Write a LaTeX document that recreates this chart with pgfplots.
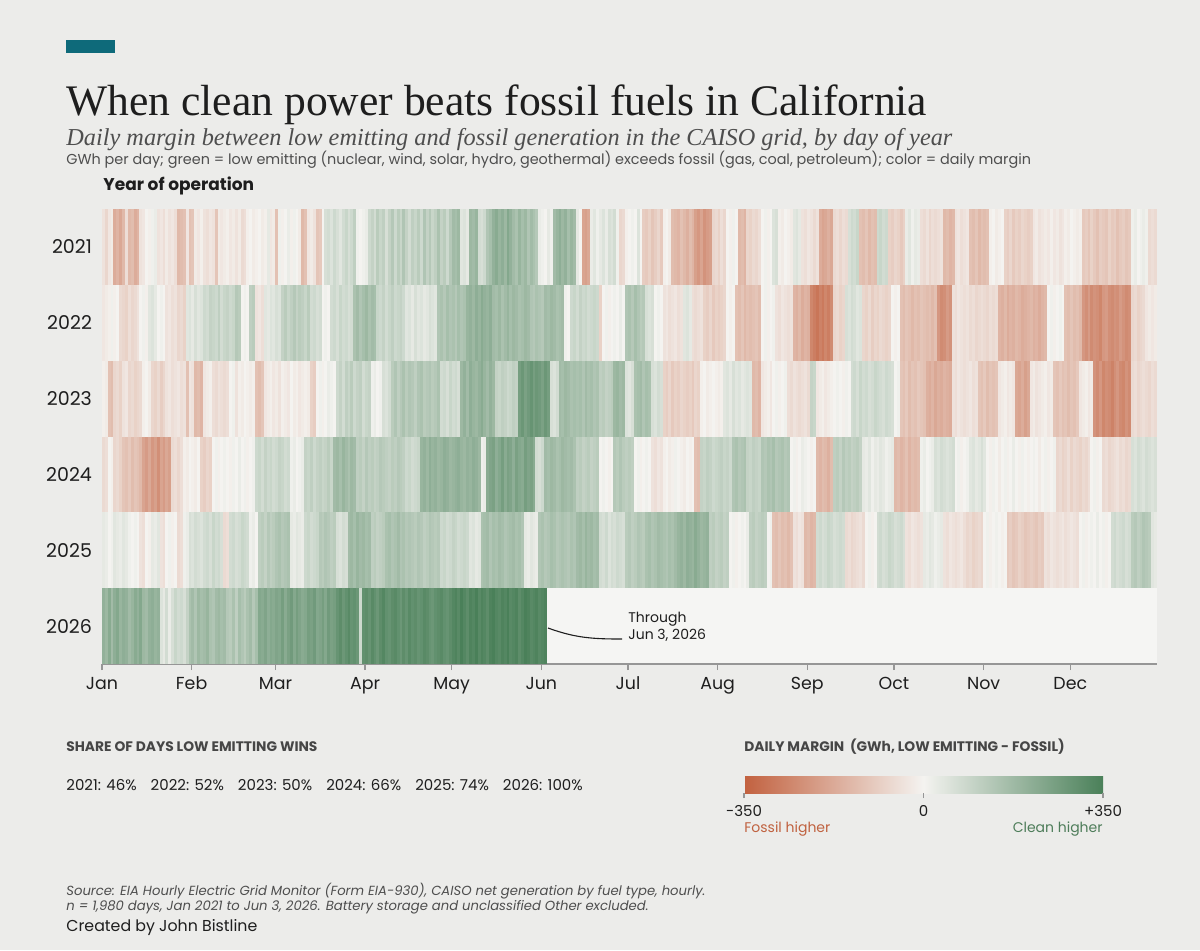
\documentclass[border=0pt]{standalone}
\usepackage{pgfplots}
\usepackage{pgfplotstable}
\pgfplotsset{compat=1.18}
\usepackage{fontspec}
\setmainfont{Poppins}
\newfontfamily\titlefont{Liberation Serif}
\definecolor{bg}{RGB}{236,236,234}
\definecolor{panel}{RGB}{245,245,243}
\definecolor{accent}{RGB}{14,106,122}
\definecolor{ink}{RGB}{30,30,30}
\definecolor{sub}{RGB}{78,78,78}
\definecolor{head}{RGB}{70,70,70}
\definecolor{axisgray}{RGB}{150,150,150}
\definecolor{fossil}{RGB}{192,98,64}
\definecolor{clean}{RGB}{78,125,90}
\pgfdeclareplotmark{daycell}{\pgfpathrectangle{\pgfqpoint{-0.78pt}{-18.96pt}}{\pgfqpoint{1.56pt}{37.92pt}}\pgfusepathqfill}
\pgfplotsset{heat/.style={scatter, only marks, mark=daycell, point meta=explicit, scatter/use mapped color={draw=none, fill=mapped color}}}
% daily margin, tens of GWh (low emitting - fossil), day of year 1..365
\pgfplotstableread{
c
-4
-7
-3
-2
-17
-15
-18
-14
-5
-14
-13
-17
-15
-4
-3
0
-1
1
2
-4
-3
-5
-2
-4
-3
-5
-14
-13
-12
-3
-12
-11
-2
-3
-1
-4
-5
-3
-4
-11
-2
-3
-2
-1
-3
-2
-4
-2
-6
-5
-1
0
-2
-1
0
-2
-1
3
-3
-2
-12
1
-1
0
2
-1
1
0
-2
-14
-12
-3
-2
-4
-11
-10
0
6
7
5
8
6
4
7
9
6
8
11
1
0
1
2
8
10
7
12
9
11
6
10
13
8
12
9
14
10
7
11
9
12
8
14
10
13
9
11
15
10
12
8
13
17
16
18
4
5
3
18
17
19
7
6
8
14
16
20
22
19
21
18
23
20
17
15
19
16
18
14
17
15
13
2
1
0
3
1
17
19
21
18
20
16
19
17
3
0
-19
-20
-18
2
4
1
3
5
2
6
5
7
1
-7
-6
-1
0
1
0
5
0
-9
-10
-8
-11
-9
-7
-10
-1
0
-2
-13
-14
-15
-12
-14
-16
-13
-15
-20
-22
-19
-23
-21
-20
-7
-6
-8
-5
-7
0
-1
1
0
-14
-13
-15
-7
-8
-6
-7
-5
0
1
-1
0
5
6
-1
-2
0
-1
-2
4
5
3
-4
-5
-3
-4
-6
-4
-17
-19
-18
-16
-18
-6
-5
-7
-5
-6
6
8
7
9
-12
-13
-11
-14
-12
-13
8
9
7
8
-8
-9
-7
-8
-10
-8
2
4
1
3
2
-5
-6
-4
-7
-5
-6
-5
-4
-14
-13
-15
-14
-4
-3
-5
-4
-3
-12
-13
-11
-14
-12
-13
-12
-1
0
-2
-1
0
-8
-9
-7
-10
-8
-9
-7
-8
-9
-8
-3
-2
-4
-3
-2
-3
-1
-3
-2
-4
-3
-1
-2
0
-1
-2
-1
-10
-9
-11
-8
-10
-12
-9
-10
-11
-8
-10
-9
-12
-10
-9
-11
-10
1
2
0
1
2
1
-6
-5
-6
}\yA
\pgfplotstableread{
c
-3
-2
-1
1
-1
0
-6
-7
-8
-5
-7
-6
-4
0
1
-1
4
5
3
0
1
0
-4
-3
-5
-4
-7
-6
-8
4
5
3
6
4
5
8
7
10
9
8
11
7
9
10
8
9
13
12
0
1
0
11
12
-4
-3
-5
4
3
5
4
6
5
10
12
9
11
13
10
12
11
9
12
7
8
6
7
0
1
0
7
8
6
9
7
8
6
7
15
17
14
16
18
15
17
16
9
8
10
7
9
11
8
9
10
8
4
5
3
6
4
5
3
4
6
5
4
14
15
13
16
14
15
13
16
14
15
19
20
18
21
19
22
20
19
21
17
16
18
15
17
19
16
18
17
15
16
18
17
14
13
15
14
13
17
16
18
17
15
16
17
1
0
8
9
7
10
8
9
7
8
9
8
-8
0
1
-1
0
1
0
2
0
14
15
13
16
14
12
13
6
5
6
0
1
0
-4
-3
-5
-4
-3
-5
-4
4
5
3
-5
-6
-5
-4
-8
-9
-7
-10
-8
-9
-8
-7
0
-1
0
-12
-13
-11
-14
-12
-13
-12
-11
-13
0
1
-1
0
1
-4
-5
-3
-4
-5
-4
-15
-16
-14
-17
-15
-16
-26
-28
-30
-27
-29
-26
-28
-25
-7
-6
-8
-7
6
5
7
6
4
5
-7
-8
-6
-9
-7
-8
-6
-7
-8
-7
0
-1
0
-12
-13
-11
-12
-14
-12
-13
-11
-12
-13
-12
-14
-12
-22
-25
-24
-21
-23
-4
-5
-3
-4
-5
-4
-6
-5
-7
-6
-5
-6
-7
-5
-6
-5
-15
-16
-14
-17
-15
-16
-14
-15
-17
-16
-15
-14
-16
-15
-17
-15
-14
0
1
-1
0
1
0
-12
-13
-11
-13
-12
-14
-22
-24
-21
-25
-23
-24
-26
-22
-21
-24
-25
-23
-24
-21
-23
-25
-24
-7
-6
-8
-7
-6
-3
-2
-3
-2
}\yB
\pgfplotstableread{
c
-1
-2
-12
-13
-7
-6
-8
-4
-3
-7
-6
-8
-7
-6
-1
0
-2
-7
-8
-6
-9
-7
-4
-3
-5
-4
-3
-5
-4
-12
-3
-4
-14
-13
-15
-3
-2
-1
-5
-6
-4
-5
-6
-5
0
1
-4
-1
-2
0
-1
-2
-1
-12
-13
-11
-3
-2
-1
-3
-2
-4
-1
-2
-3
0
-2
-1
-3
-2
-1
-2
-8
-9
0
1
-1
0
2
1
0
8
10
7
11
9
12
8
10
11
7
9
10
1
2
0
1
6
5
7
12
14
11
13
15
12
14
13
11
14
15
12
13
14
12
13
15
7
8
6
9
7
8
6
18
20
17
21
19
18
20
22
19
17
20
18
10
9
11
10
8
9
11
10
26
28
25
27
29
26
28
27
25
28
26
6
5
7
17
16
18
17
15
16
15
16
14
17
15
16
14
15
11
12
10
11
12
18
19
17
18
5
4
6
15
16
17
14
16
15
6
5
7
6
-8
-9
-7
-10
-8
-9
-7
-8
-9
-8
-10
-7
-8
-1
0
-2
-1
0
-1
-2
-1
4
5
3
6
4
5
3
4
5
4
-14
-13
-15
-3
-2
-1
-3
0
1
-1
0
1
-5
-6
-4
-5
-6
-5
-4
-6
10
9
-3
-2
-1
-3
-2
-1
0
1
0
-1
1
0
7
8
6
9
7
8
6
7
9
8
7
6
8
7
6
0
1
-11
-12
-10
-13
-11
-12
-10
-11
-12
-16
-17
-15
-18
-16
-17
-15
-16
-17
-4
-5
-3
-4
-5
-4
-3
-5
-4
-11
-12
-10
-13
-11
-12
-11
-3
-2
-1
-3
-2
-3
-18
-19
-17
-20
-18
-3
-2
-4
-3
-2
-1
-3
-2
-11
-12
-10
-12
-11
-13
-11
-12
-10
-3
-2
-1
-3
-2
-23
-25
-22
-26
-24
-25
-27
-24
-22
-25
-26
-23
-25
-6
-5
-7
-6
-5
-6
-7
-5
-6
}\yC
\pgfplotstableread{
c
-6
-5
0
-1
-7
-6
-8
-11
-12
-10
-13
-11
-12
-14
-19
-21
-18
-22
-20
-24
-19
-21
-18
-20
-6
-5
-7
-5
-1
-2
0
-1
-2
0
-8
-9
-7
-8
0
1
-1
0
1
0
-1
1
0
2
0
1
-1
0
1
8
9
7
10
8
9
7
8
10
9
7
8
1
2
0
1
2
10
9
11
8
10
11
9
10
12
9
17
18
16
19
17
15
18
17
11
12
10
13
11
12
10
11
13
12
11
10
12
11
13
12
11
8
9
7
8
9
19
20
18
21
19
20
18
19
21
20
18
19
20
21
19
18
20
19
21
20
18
1
2
22
24
25
21
23
26
22
25
24
21
25
23
22
26
24
25
22
7
6
8
17
16
18
17
15
16
18
17
16
17
15
11
12
10
11
12
10
11
12
0
1
0
-1
0
13
12
14
12
11
12
11
0
1
-1
0
1
0
-4
-5
-3
-4
-1
0
-2
-1
1
0
-1
-2
0
-1
0
-12
-13
10
9
11
10
8
9
10
11
9
10
8
14
15
13
14
15
10
9
11
10
9
14
13
15
14
16
13
14
15
13
14
0
1
-1
0
2
1
0
-1
0
-14
-15
-13
-14
-16
-13
11
12
10
13
11
12
10
11
12
10
3
2
4
1
3
2
4
3
1
2
3
-14
-13
-15
-14
-12
-15
-13
-14
-13
1
2
0
1
2
6
5
7
6
5
6
7
0
1
-1
0
1
4
5
3
4
6
4
0
-1
1
0
-2
0
1
-1
0
2
0
-1
1
0
-1
0
1
0
-2
0
1
-1
0
1
-7
-6
-8
-7
-5
-8
-6
-7
-8
-6
-7
-5
0
1
-1
0
-6
-5
-7
-6
-5
-4
-6
-5
-7
-6
6
5
7
6
5
7
6
5
6
}\yD
\pgfplotstableread{
c
3
2
0
1
4
3
2
4
3
1
0
1
0
-4
-5
0
-1
3
2
4
-4
-5
0
1
-1
0
-6
-5
1
2
6
5
7
6
5
7
8
6
9
7
8
6
-6
-5
7
8
6
7
9
8
7
1
2
0
11
12
10
13
11
12
14
15
13
14
15
3
2
4
3
2
8
9
7
8
9
13
12
14
13
11
12
6
5
7
6
17
18
16
19
17
18
16
17
11
12
10
11
12
15
16
14
15
17
14
15
13
14
13
12
14
13
11
12
14
13
12
13
8
9
7
8
10
9
7
8
9
8
4
5
3
4
15
16
17
14
16
15
17
16
14
15
16
17
15
16
14
3
2
4
3
2
14
15
13
14
16
15
13
14
15
14
13
15
14
17
18
16
19
17
18
16
17
7
6
8
5
7
6
8
7
6
12
13
11
12
14
13
12
15
16
14
15
17
16
15
14
16
15
17
19
20
18
21
20
19
22
20
18
19
20
11
12
10
11
12
10
11
0
1
-1
0
1
0
2
11
12
10
11
12
11
0
1
-12
-13
-11
-13
-12
-14
-12
-4
-5
-3
-4
-14
-13
-15
-14
7
8
6
7
9
8
6
7
8
7
-6
-5
-7
-6
-5
-4
-6
0
1
-1
0
7
8
6
7
9
8
6
7
8
6
-4
-5
-3
-4
-5
-4
3
2
4
3
1
2
3
-4
-5
-3
-4
-5
-4
-3
-5
-7
-6
-8
-7
-6
-7
0
1
-1
0
1
0
-1
0
-10
-9
-11
-10
-8
-9
-11
-10
-9
-10
-11
-9
-10
-4
-5
-3
-4
-5
-4
-3
-5
-4
-3
-4
-5
0
1
-1
0
1
0
2
0
1
-1
0
7
8
6
7
8
6
7
12
13
11
12
14
13
12
4
3
}\yE
\pgfplotstableread{
c
20
18
22
17
21
23
19
21
20
17
19
22
20
23
18
17
20
21
19
20
5
3
7
2
6
9
7
8
6
10
15
17
14
18
16
17
19
15
14
17
18
16
17
13
12
15
11
16
14
12
15
17
13
16
23
22
24
21
23
22
24
23
26
22
25
27
23
26
24
22
23
26
25
27
23
24
26
23
27
25
26
29
31
28
30
32
29
30
28
8
30
31
29
32
30
28
31
33
30
29
31
32
30
28
31
29
32
30
31
29
30
32
31
29
28
30
31
32
30
29
31
33
34
32
35
33
31
34
33
35
32
34
33
31
34
35
33
32
34
33
35
32
33
34
31
33
35
34
32
33
34
32
33
34
}\yF
\begin{document}
\begin{tikzpicture}
\path[use as bounding box] (0,0) rectangle (600pt,-475pt);
\fill[bg] (0,0) rectangle (600pt,-475pt);
\begin{axis}[
  at={(51pt,-332pt)}, anchor=south west,
  width=527.5pt, height=227.5pt, scale only axis,
  xmin=0, xmax=365, ymin=-0.5, ymax=5.5,
  axis on top,
  axis x line*=bottom, axis y line*=left,
  y axis line style={draw=none},
  x axis line style={draw=axisgray, line width=0.65pt},
  xtick={0,31,60,91,121,152,182,213,244,274,305,335},
  xticklabels={Jan,Feb,Mar,Apr,May,Jun,Jul,Aug,Sep,Oct,Nov,Dec},
  ytick={0,1,2,3,4,5},
  yticklabels={2026,2025,2024,2023,2022,2021},
  tick align=outside,
  xtick style={draw=axisgray, line width=0.65pt},
  ytick style={draw=none},
  major tick length=3pt,
  xticklabel style={font=\fontsize{8.7}{10}\selectfont, text=ink},
  yticklabel style={font=\fontsize{9.5}{11}\selectfont, text=ink, xshift=1.5pt},
  colormap={margin}{rgb255=(194,97,63) rgb255=(244,243,240) rgb255=(74,128,89)},
  point meta min=-35, point meta max=35,
  colorbar horizontal,
  colorbar style={
    at={(parent axis.south west)}, anchor=north west,
    xshift=321pt, yshift=-47.5pt,
    width=179.5pt, height=8.5pt,
    xtick={-35,0,35}, xticklabels={-350,0,+350},
    axis line style={draw=none},
    xtick style={draw=axisgray, line width=0.6pt},
    major tick length=2.5pt, tick align=outside,
    xtick pos=left,
    xticklabel style={font=\fontsize{7.5}{9}\selectfont, text=ink},
  },
]
\addplot[heat] table[x index=0, y index=0, x expr=\coordindex+0.5, y expr=5, meta index=0] {\yA};
\addplot[heat] table[x index=0, y index=0, x expr=\coordindex+0.5, y expr=4, meta index=0] {\yB};
\addplot[heat] table[x index=0, y index=0, x expr=\coordindex+0.5, y expr=3, meta index=0] {\yC};
\addplot[heat] table[x index=0, y index=0, x expr=\coordindex+0.5, y expr=2, meta index=0] {\yD};
\addplot[heat] table[x index=0, y index=0, x expr=\coordindex+0.5, y expr=1, meta index=0] {\yE};
\addplot[heat] table[x index=0, y index=0, x expr=\coordindex+0.5, y expr=0, meta index=0] {\yF};
\fill[panel] (axis cs:154,-0.5) rectangle (axis cs:365,0.5);
\end{axis}
\begin{scope}[x=0.5pt,y=-0.5pt]
\fill[accent] (66,40) rectangle (115,53);
\node[anchor=base west, inner sep=0, text=ink, font=\titlefont\fontsize{21.8}{26}\selectfont] at (66,115) {When clean power beats fossil fuels in California};
\node[anchor=base west, inner sep=0, text=sub, font=\titlefont\itshape\fontsize{12.15}{14}\selectfont] at (66,145) {Daily margin between low emitting and fossil generation in the CAISO grid, by day of year};
\node[anchor=base west, inner sep=0, text=sub, font=\fontsize{7.2}{8}\selectfont] at (66,164) {GWh per day; green = low emitting (nuclear, wind, solar, hydro, geothermal) exceeds fossil (gas, coal, petroleum); color = daily margin};
\node[anchor=base west, inner sep=0, text=ink, font=\bfseries\fontsize{8.5}{10}\selectfont] at (103,190) {Year of operation};
\draw[ink, line width=0.55pt] (548,628) to[out=-20,in=180] (622,639);
\node[anchor=base west, inner sep=0, text=ink, font=\fontsize{7}{8}\selectfont] at (628,622) {Through};
\node[anchor=base west, inner sep=0, text=ink, font=\fontsize{7}{8}\selectfont] at (628,639) {Jun 3, 2026};
\node[anchor=base west, inner sep=0, text=head, font=\bfseries\fontsize{6.9}{8}\selectfont] at (66,751) {SHARE OF DAYS LOW EMITTING WINS};
\node[anchor=base west, inner sep=0, text=ink, font=\fontsize{7.5}{9}\selectfont] at (66,790) {2021: 46\%\hspace{7pt}2022: 52\%\hspace{7pt}2023: 50\%\hspace{7pt}2024: 66\%\hspace{7pt}2025: 74\%\hspace{7pt}2026: 100\%};
\node[anchor=base west, inner sep=0, text=head, font=\bfseries\fontsize{6.9}{8}\selectfont] at (744,751) {DAILY MARGIN\ \ (GWh, LOW EMITTING - FOSSIL)};
\node[anchor=base west, inner sep=0, text=fossil, font=\fontsize{7}{8}\selectfont] at (744,832) {Fossil higher};
\node[anchor=base east, inner sep=0, text=clean, font=\fontsize{7}{8}\selectfont] at (1103,832) {Clean higher};
\node[anchor=base west, inner sep=0, text=sub, font=\itshape\fontsize{6.6}{7}\selectfont] at (66,895) {Source: EIA Hourly Electric Grid Monitor (Form EIA-930), CAISO net generation by fuel type, hourly.};
\node[anchor=base west, inner sep=0, text=sub, font=\itshape\fontsize{6.6}{7}\selectfont] at (66,910) {n = 1,980 days, Jan 2021 to Jun 3, 2026. Battery storage and unclassified Other excluded.};
\node[anchor=base west, inner sep=0, text=ink, font=\fontsize{7.9}{9}\selectfont] at (66,931) {Created by John Bistline};
\end{scope}
\end{tikzpicture}
\end{document}
